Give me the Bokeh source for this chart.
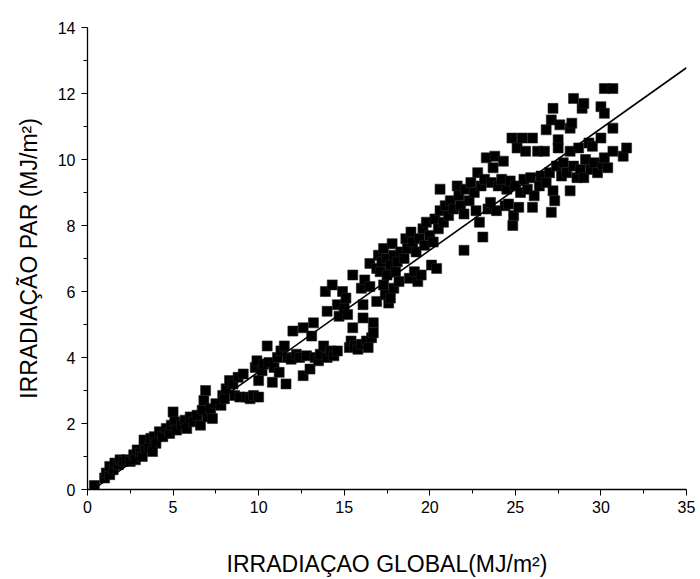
from bokeh.plotting import figure
from bokeh.models import Range1d, FixedTicker, ColumnDataSource
from bokeh.embed import file_html
from bokeh.resources import INLINE

# Observed points (global irradiation, PAR irradiation) in MJ/m2
glob = [
    0.4, 1.0, 1.1, 1.3, 1.3, 1.5, 1.6, 1.8, 1.9, 2.1,
    2.3, 2.5, 2.7, 2.8, 2.9, 3.1, 3.2, 3.4, 3.3, 3.6, 3.7, 3.9, 4.0, 3.8,
    4.2, 4.4, 4.6, 4.8, 4.9, 5.0, 5.1, 5.2,
    5.5, 5.7, 5.8, 6.0, 6.2, 6.4, 6.6, 6.7, 6.8, 6.9, 7.0, 7.2, 7.3, 7.5, 7.8, 7.9, 8.0, 8.1,
    8.3, 8.5, 8.6, 8.8, 8.9, 9.1, 9.3, 9.5, 9.7, 9.8, 9.9, 10.0, 10.0, 10.2, 10.3, 10.5, 10.6,
    10.8, 10.9, 11.1,
    11.2, 11.3, 11.5, 11.6, 11.7, 11.9, 12.0, 12.2, 12.4, 12.6, 12.6, 12.8, 13.0, 13.1, 13.2,
    13.3, 13.5, 13.6, 13.8, 13.9, 14.0, 14.0, 14.2, 14.3, 14.4, 14.6, 14.6, 14.7, 14.9, 15.0,
    15.1, 15.2, 15.3, 15.4, 15.5, 15.5, 15.6, 15.8, 16.0, 16.0, 16.1, 16.1, 16.2, 16.3, 16.4,
    16.5, 16.5, 16.6, 16.7, 16.7, 16.9, 16.9,
    17.0, 17.1, 17.2, 17.3, 17.3, 17.4, 17.5, 17.5, 17.6, 17.7, 17.7, 17.8, 17.9, 17.9, 18.0,
    18.1, 18.2, 18.3, 18.5, 18.6, 18.7, 18.8, 18.9, 19.0, 19.1, 19.2, 19.3, 19.4, 19.5, 19.6,
    19.7, 19.8, 20.0, 20.1, 20.2, 20.3, 20.4, 20.5,
    20.6, 20.6, 20.8, 20.9, 21.1, 21.2, 21.4, 21.6, 21.7, 21.8, 22.0, 22.0, 22.1, 22.3, 22.4,
    22.6, 22.7, 22.8, 22.9, 23.0, 23.1, 23.2, 23.3, 23.4, 23.55, 23.6, 23.7, 23.8, 23.9, 24.0,
    24.2, 24.3, 24.4, 24.5, 24.6, 24.7, 24.8, 24.85, 24.9, 25.0,
    25.1, 25.2, 25.3, 25.4, 25.5, 25.6, 25.7, 25.9, 26.0, 26.0, 26.1, 26.3, 26.4, 26.5, 26.7,
    26.8, 26.8, 27.0, 27.1, 27.1, 27.2, 27.2, 27.3, 27.4, 27.5, 27.5, 27.6, 27.7, 27.8, 28.0,
    28.2, 28.2, 28.2, 28.3, 28.4, 28.4, 28.6, 28.7, 28.8, 28.9, 29.0, 29.0, 29.1, 29.3, 29.4,
    29.5, 29.6, 29.8, 30.0, 30.0, 30.1, 30.2, 30.2, 30.2, 30.4, 30.7, 30.7, 30.7, 31.3, 31.5,
]
par = [
    0.12, 0.35, 0.5, 0.45, 0.7, 0.6, 0.8, 0.75, 0.9, 0.85,
    0.9, 0.85, 1.05, 0.9, 1.2, 1.1, 1.0, 1.25, 1.5, 1.3, 1.55, 1.6, 1.4, 1.15,
    1.75, 1.6, 1.85, 1.7, 1.95, 2.35, 2.05, 1.8,
    1.95, 2.1, 1.85, 2.2, 2.05, 2.25, 1.95, 2.4, 2.7, 3.0, 2.2, 2.45, 2.15, 2.6, 2.55, 2.85, 2.75, 3.05,
    3.3, 3.2, 2.85, 3.4, 2.8, 3.5, 2.8, 2.75, 2.85, 3.7, 3.9, 3.3, 2.8, 3.6, 3.8, 4.35, 3.85,
    3.25, 3.7, 4.0,
    3.55, 4.2, 4.35, 3.2, 4.0, 3.95, 4.8, 4.1, 4.0, 3.45, 4.9, 4.05, 3.65, 4.65, 5.05,
    4.0, 3.9, 4.1, 4.35, 6.0, 5.4, 4.0, 4.2, 6.2, 4.05, 4.2, 5.6, 5.25, 6.0, 5.5,
    5.8, 5.3, 4.3, 4.5, 6.5, 4.9, 4.35, 4.25, 6.1, 4.4, 5.6, 5.2, 6.35, 4.5, 4.3,
    6.85, 6.15, 4.6, 5.05, 4.75, 6.7, 5.7,
    7.1, 6.6, 6.9, 7.3, 6.2, 5.9, 7.0, 6.5, 5.65, 5.8, 6.8, 7.45, 7.1, 6.1, 6.6,
    6.9, 6.3, 7.2, 7.0, 7.6, 7.3, 6.4, 7.8, 7.5, 6.6, 7.2, 6.3, 7.6, 6.5, 7.9,
    7.4, 8.1, 7.7, 6.8, 7.5, 8.2, 6.7, 7.9,
    8.45, 9.1, 8.1, 8.6, 8.3, 8.75, 8.5, 9.2, 8.9, 8.6, 8.35, 7.25, 9.1, 8.75, 9.3,
    9.0, 8.45, 9.6, 8.1, 9.2, 7.65, 9.4, 10.05, 8.5, 8.7, 9.3, 9.75, 10.1, 8.45, 9.2,
    9.4, 9.95, 8.6, 9.1, 8.65, 9.35, 10.65, 8.0, 8.3, 9.2,
    10.35, 8.55, 9.0, 10.65, 9.4, 10.25, 9.1, 9.45, 10.65, 8.55, 8.9, 10.25, 9.2, 9.5, 10.25,
    10.9, 9.3, 9.6, 11.2, 8.4, 11.55, 9.05, 8.75, 9.8, 10.6, 10.35, 11.05, 9.5, 9.9, 9.6,
    10.95, 10.25, 9.05, 11.1, 11.85, 9.8, 9.45, 10.35, 9.7, 11.55, 11.7, 9.45, 10.0, 10.5, 9.7,
    10.4, 9.9, 9.6, 10.65, 11.6, 9.85, 11.4, 10.05, 12.15, 9.75, 12.15, 10.95, 10.25, 10.1, 10.35,
]

# Linear fit shown on the chart
fit_slope = 0.3686
fit_intercept = -0.12
fit_x = [0.3, 35.0]

x_ticks = [0, 5, 10, 15, 20, 25, 30, 35]
y_ticks = [0, 2, 4, 6, 8, 10, 12, 14]

p = figure(width=700, height=579, output_backend="svg", toolbar_location=None,
           x_range=Range1d(0, 35), y_range=Range1d(0, 14),
           min_border_left=87, min_border_right=14, min_border_top=27, min_border_bottom=90)

p.outline_line_color = None
p.xgrid.visible = False
p.ygrid.visible = False
p.background_fill_color = "white"
p.border_fill_color = "white"

src = ColumnDataSource(dict(x=glob, y=par))
p.scatter("x", "y", source=src, marker="square", size=10,
          fill_color="black", line_color="#222222", line_width=0.6)

fit_y = [fit_intercept + fit_slope * v for v in fit_x]
p.line(fit_x, fit_y, line_color="black", line_width=1.6)

font = "Liberation Sans"
for ax, ticks in ((p.xaxis[0], x_ticks), (p.yaxis[0], y_ticks)):
    ax.ticker = FixedTicker(ticks=ticks,
                            minor_ticks=[t + (ticks[1] - ticks[0]) / 2 for t in ticks[:-1]])
    ax.major_label_text_font = font
    ax.major_label_text_font_size = "16px"
    ax.major_label_text_color = "black"
    ax.axis_label_text_font = font
    ax.axis_label_text_font_size = "23px"
    ax.axis_label_text_font_style = "normal"
    ax.axis_label_text_color = "black"
    ax.axis_line_color = "black"
    ax.axis_line_width = 1.3
    ax.major_tick_line_color = "black"
    ax.minor_tick_line_color = "black"
    ax.major_tick_in = 0
    ax.major_tick_out = 6
    ax.minor_tick_in = 0
    ax.minor_tick_out = 4

p.xaxis.axis_label = "IRRADIAÇAO GLOBAL(MJ/m²)"
p.yaxis.axis_label = "IRRADIAÇÃO PAR (MJ/m²)"
p.xaxis.major_label_standoff = 5
p.yaxis.major_label_standoff = 6
p.xaxis.axis_label_standoff = 35
p.yaxis.axis_label_standoff = 13

open("out.html", "w").write(file_html(p, INLINE))
